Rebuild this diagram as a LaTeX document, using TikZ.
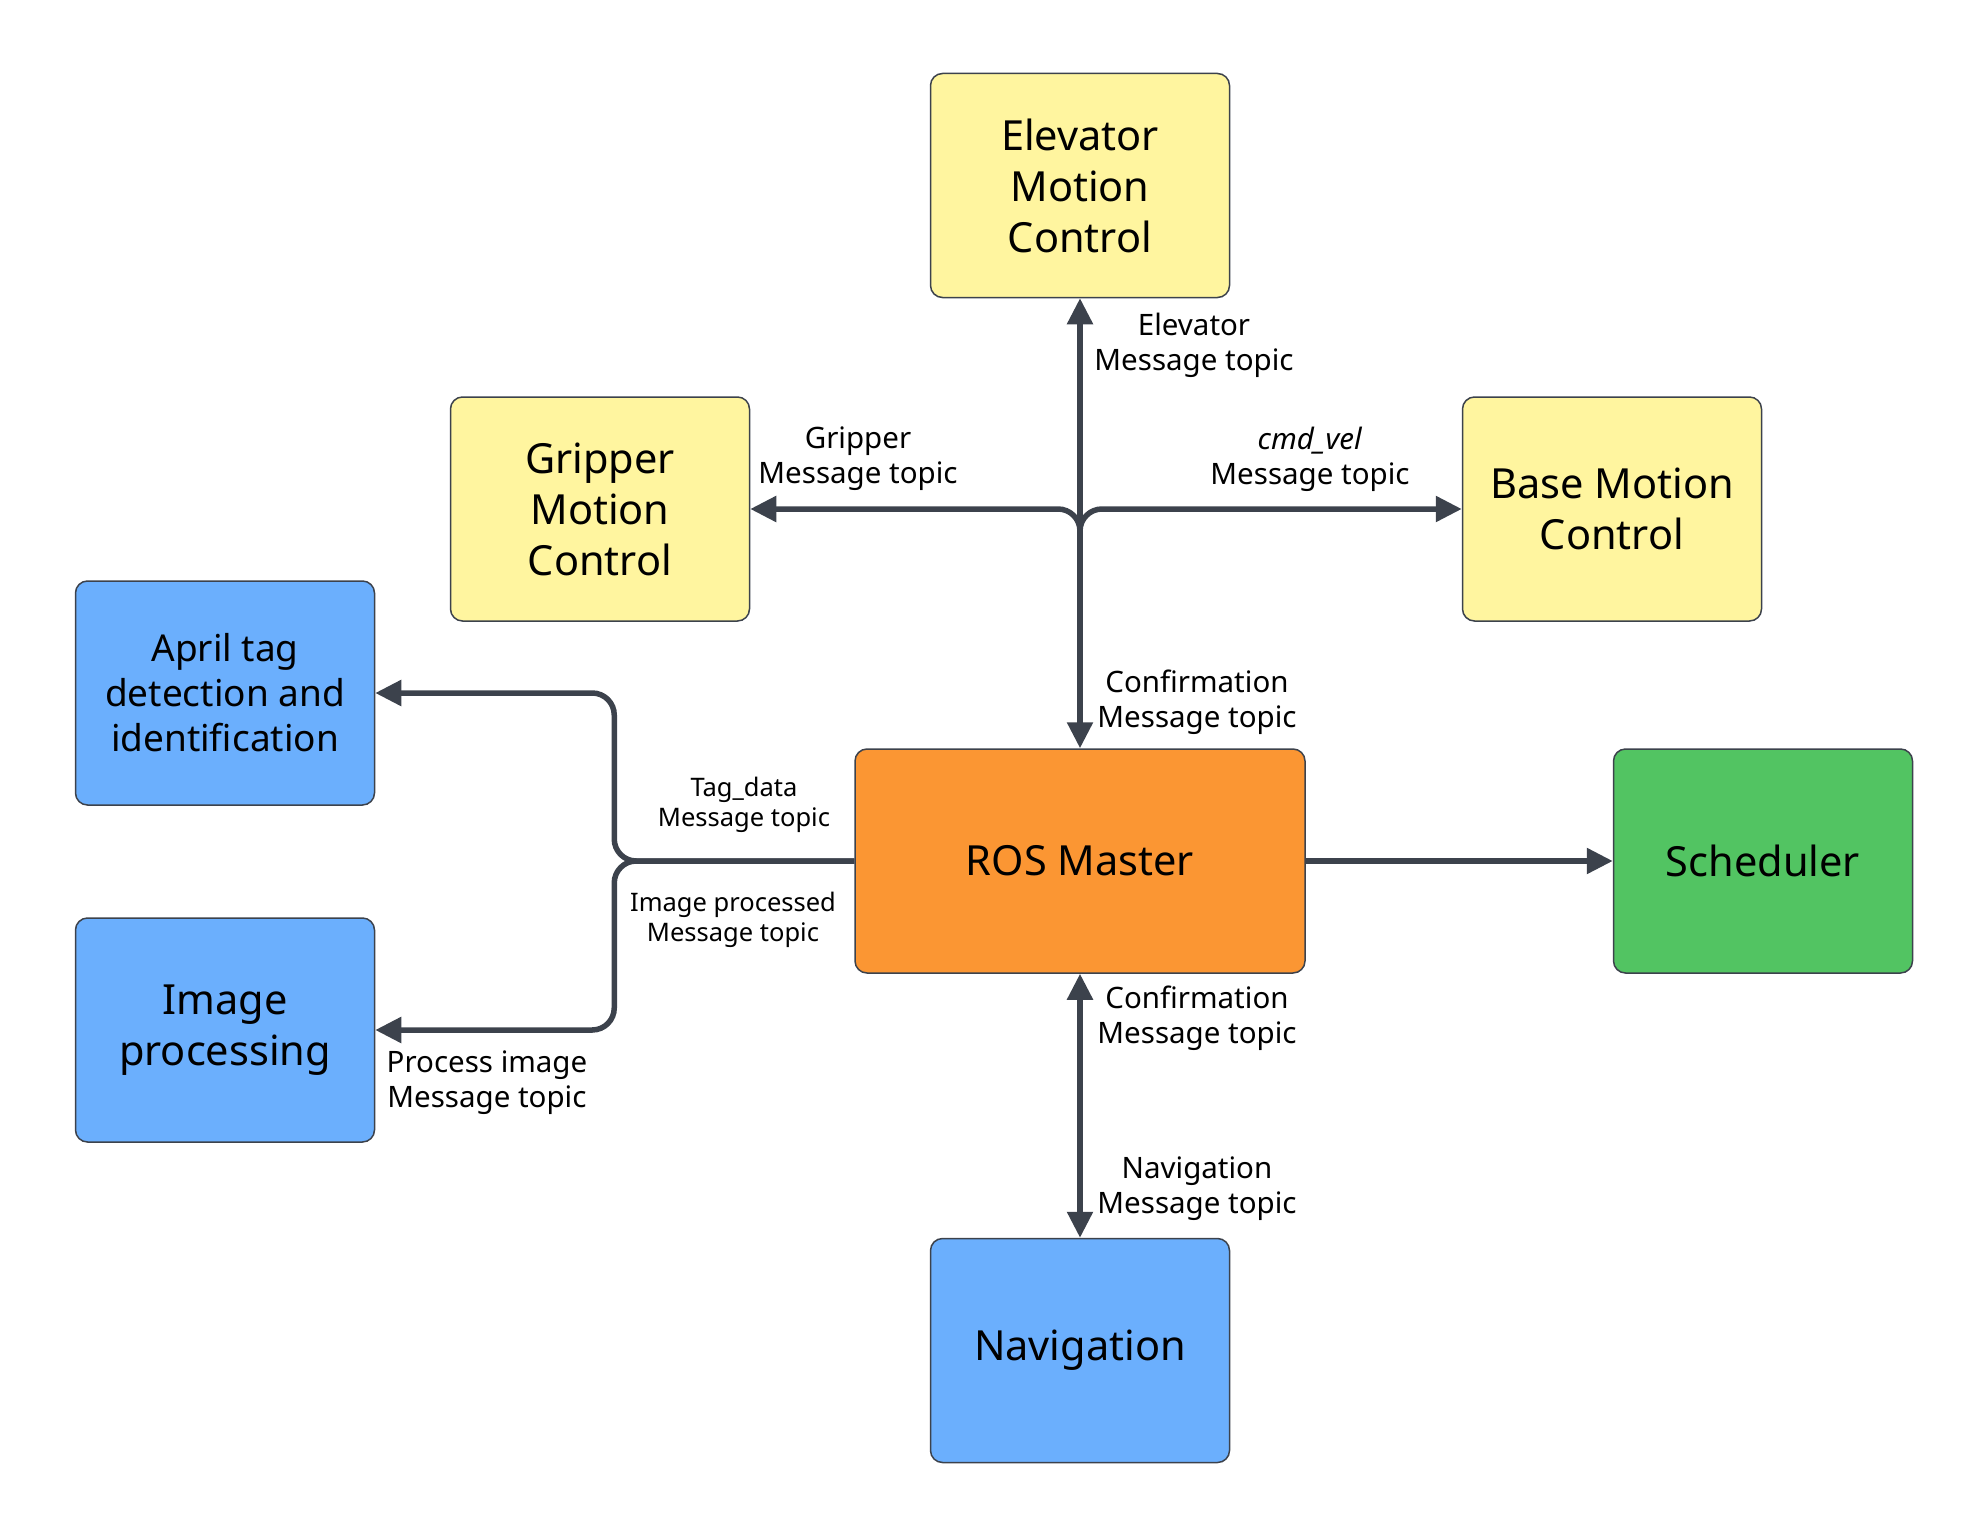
\documentclass[tikz,border=0pt]{standalone}
\usepackage{fontspec}
\setmainfont{Noto Sans}
\usepackage{tikz}
\usetikzlibrary{arrows.meta, positioning}

\definecolor{ylw}{HTML}{FFF59F}
\definecolor{blu}{HTML}{6BAFFD}
\definecolor{org}{HTML}{FB9633}
\definecolor{grn}{HTML}{52C462}
\definecolor{edge}{HTML}{3C424C}

\begin{document}
\begin{tikzpicture}[
    x=1pt, y=-1pt,
    >={Triangle[length=26pt, width=25pt]},
    box/.style={rectangle, rounded corners=12pt, draw=edge, line width=1.5pt, minimum width=299pt, minimum height=224pt, inner sep=0pt, align=center, font=\fontsize{41.5}{51}\selectfont},
    link/.style={draw=edge, line width=5.5pt},
    lbl/.style={align=center, font=\fontsize{29.5}{35}\selectfont},
    lblsmall/.style={align=center, font=\fontsize{25.5}{30}\selectfont}
  ]
    \useasboundingbox (0,0) rectangle (1988,1538);
    \node[box, fill=org, minimum width=450pt] (ros) at (1080,861) {ROS Master};
    \node[box, fill=ylw, above=450pt of ros] (elev) {Elevator\\Motion\\Control};
    \node[box, fill=blu, below=264pt of ros] (nav) {Navigation};
    \node[box, fill=grn, right=307pt of ros] (sched) {Scheduler};
    \node[box, fill=ylw] (grip) at (600,509) {Gripper\\Motion\\Control};
    \node[box, fill=ylw] (base) at (1612,509) {Base Motion\\Control};
    \node[box, fill=blu, font=\fontsize{37}{45}\selectfont] (april) at (225,693) {April tag\\detection and\\identification};
    \node[box, fill=blu] (imgproc) at (225,1030) {Image\\processing};

    % junctions
    \coordinate (hub) at (1080,537);
    \coordinate (bend) at (hub |- grip.east);
    \coordinate (split) at ([xshift=-240pt]ros.west);

    \draw[link, <->] (ros.north) -- (elev.south);
    \draw[link, ->, rounded corners=22pt] (hub) -- (bend) -- (grip.east);
    \draw[link, ->, rounded corners=22pt] (hub) -- (bend) -- (base.west);
    \draw[link, ->, rounded corners=22pt] (ros.west) -- (split) -- (split |- april.east) -- (april.east);
    \draw[link, ->, rounded corners=22pt] (ros.west) -- (split) -- (split |- imgproc.east) -- (imgproc.east);
    \draw[link, ->] (ros.east) -- (sched.west);
    \draw[link, <->] (ros.south) -- (nav.north);

    % topic labels
    \node[lbl] (elevtopic) at (1194,345) {Elevator\\Message topic};
    \node[lbl] (griptopic) at (858,459) {Gripper\\Message topic};
    \node[lbl] (veltopic) at (1310,459) {\textit{cmd\_vel}\\Message topic};
    \node[lbl] (conftop) at (1197,702) {Confirmation\\Message topic};
    \node[lblsmall] (tagtopic) at (744,805) {Tag\_data\\Message topic};
    \node[lblsmall] (imgtopic) at (733,920) {Image processed\\Message topic};
    \node[lbl] (proctopic) at (487,1083) {Process image\\Message topic};
    \node[lbl] (confbot) at (1197,1018) {Confirmation\\Message topic};
    \node[lbl] (navtopic) at (1197,1189) {Navigation\\Message topic};
  \end{tikzpicture}
\end{document}
